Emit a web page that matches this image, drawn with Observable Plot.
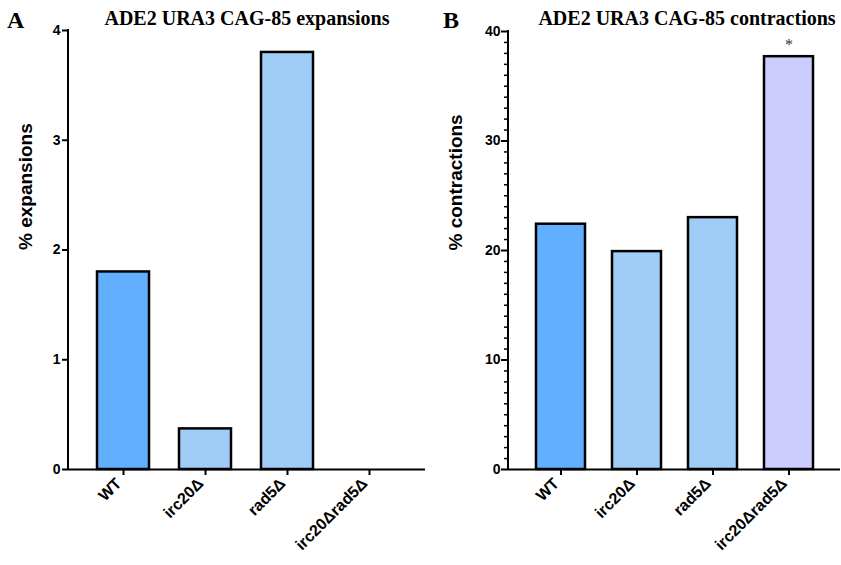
<!DOCTYPE html>
<html><head><meta charset="utf-8">
<script src="https://cdn.jsdelivr.net/npm/d3@7"></script>
<script src="https://cdn.jsdelivr.net/npm/@observablehq/plot@0.6"></script>
<style>
body{margin:0;background:#fff;}
.cell{display:inline-block;vertical-align:top;position:relative;height:565px;}
.abs{position:absolute;top:0;left:0;}
.title{position:absolute;font-family:"Liberation Serif","Times New Roman",serif;font-weight:bold;font-size:20px;line-height:20px;white-space:nowrap;transform:translateX(-50%);color:#000;}
.letter{position:absolute;font-family:"Liberation Serif","Times New Roman",serif;font-weight:bold;font-size:24px;line-height:24px;color:#000;}
</style></head><body>
<script>
const strains = ["WT", "irc20Δ", "rad5Δ", "irc20Δrad5Δ"];
const expansions = [1.8, 0.37, 3.8, 0];
const contractions = [22.4, 19.9, 23.0, 37.7];
const barColors = ["#63AFFF", "#A0CDF8", "#A0CDF8", "#CCCCFF"];
const ticksA = [0, 1, 2, 3, 4];
const ticksB = [0, 10, 20, 30, 40];
const minorTicksB = [1,2,3,4,5,6,7,8,9,11,12,13,14,15,16,17,18,19,21,22,23,24,25,26,27,28,29,31,32,33,34,35,36,37,38,39];
const significance = [{strain: "irc20Δrad5Δ", value: 37.7, label: "*"}];

const SANS = "Liberation Sans, Arial, sans-serif";
const SERIF = "Liberation Serif, Times New Roman, serif";
const H = 565, MB = 96;

function addText(parent, cls, txt, left, top) {
  const d = document.createElement("div");
  d.className = cls; d.textContent = txt;
  d.style.left = left + "px"; d.style.top = top + "px";
  parent.appendChild(d);
}

function panel({values, yDomain, yTicks, minor, yLabel, width, marginLeft, marginRight, marginTop, majorLen, labelDx, extra, letter, letterX, title, titleX}) {
  const frameW = width - marginLeft - marginRight;
  const frameH = H - marginTop - MB;
  const data = strains.map((s, i) => ({strain: s, value: values[i], color: barColors[i]}));
  const marks = [
    Plot.barY(data, {x: "strain", y: "value", fill: "color", stroke: "black", strokeWidth: 2.5}),
    // x axis line
    Plot.ruleY([yDomain[0]], {stroke: "black", strokeWidth: 2}),
    // y axis line
    Plot.rect([yDomain], {y1: d => d[0], y2: d => d[1], fill: "black", insetLeft: -1, insetRight: frameW - 1, insetTop: -1, insetBottom: -1}),
    // y major ticks
    Plot.ruleY(yTicks, {y: d => d, stroke: "black", strokeWidth: 2, insetLeft: -majorLen, insetRight: frameW}),
    // y tick labels
    Plot.text(yTicks, {y: d => d, text: d => String(d), frameAnchor: "left", dx: -8, textAnchor: "end", fontSize: 14, fontWeight: "bold", fontFamily: SANS, fill: "black"}),
    // x ticks
    Plot.ruleX(strains, {x: d => d, stroke: "black", strokeWidth: 2, insetTop: frameH, insetBottom: -6}),
    // x tick labels
    Plot.text(strains, {x: d => d, text: d => d, frameAnchor: "bottom", rotate: -45, textAnchor: "end", dx: -1, dy: 15, fontSize: 16, fontWeight: "bold", fontFamily: SANS, fill: "black"}),
    // y axis title
    Plot.text([yLabel], {frameAnchor: "left", dx: labelDx, rotate: -90, fontSize: 19, fontWeight: "bold", fontFamily: SANS, fill: "black", text: d => d})
  ];
  if (minor) marks.push(Plot.ruleY(minor, {y: d => d, stroke: "black", strokeWidth: 1.5, insetLeft: -4, insetRight: frameW}));
  if (extra) marks.push(...extra);
  const svg = Plot.plot({
    width, height: H, marginLeft, marginRight, marginTop, marginBottom: MB,
    x: {domain: strains, paddingInner: 0.36, paddingOuter: 0.34, axis: null},
    y: {domain: yDomain, axis: null},
    color: {type: "identity"},
    marks
  });
  const cell = document.createElement("div");
  cell.className = "cell";
  cell.style.width = width + "px";
  svg.classList.add("abs");
  cell.appendChild(svg);
  addText(cell, "letter", letter, letterX, 8);
  addText(cell, "title", title, titleX, 8);
  document.body.appendChild(cell);
}

panel({values: expansions, yDomain: [0, 4], yTicks: ticksA, yLabel: "% expansions",
  width: 430, marginLeft: 68, marginRight: 5, marginTop: 30, majorLen: 6, labelDx: -43,
  letter: "A", letterX: 7, title: "ADE2 URA3 CAG-85 expansions", titleX: 247});

panel({values: contractions, yDomain: [0, 40], yTicks: ticksB, minor: minorTicksB, yLabel: "% contractions",
  width: 411, marginLeft: 78, marginRight: 1, marginTop: 31, majorLen: 7, labelDx: -53,
  letter: "B", letterX: 13, title: "ADE2 URA3 CAG-85 contractions", titleX: 257,
  extra: [Plot.text(significance, {x: "strain", y: "value", text: "label", dy: -12, fontSize: 16, fontWeight: "normal", fill: "#333", fontFamily: SERIF})]});
</script></body></html>
